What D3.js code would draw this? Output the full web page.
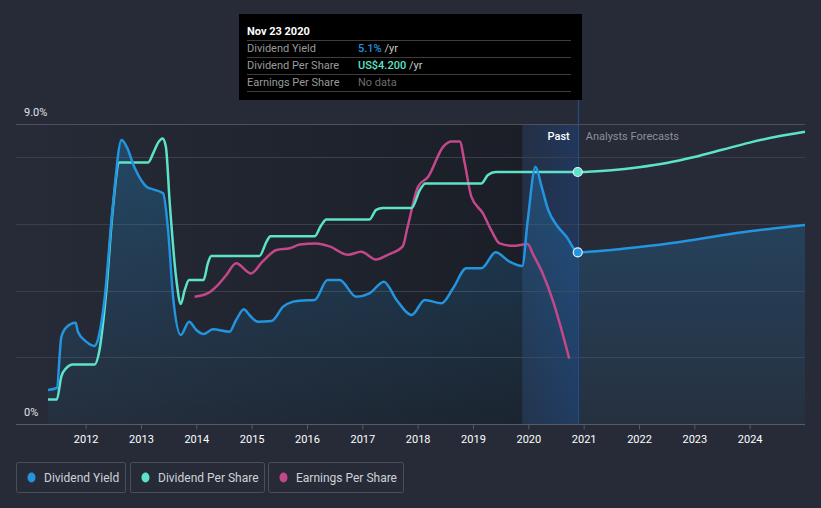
<!DOCTYPE html>
<html><head><meta charset="utf-8">
<script src="https://cdn.jsdelivr.net/npm/d3@7"></script>
<style>
html,body{margin:0;padding:0;background:#262b37;}
svg{display:block;font-family:Roboto,"Noto Sans",sans-serif;}
</style></head><body>
<svg id="c" width="821" height="508"></svg>
<script>
// ---- data (decimal year, value) ----
const yieldPast = [[2011.32,1.02],[2011.48,1.08],[2011.56,2.6],[2011.65,2.9],[2011.82,3.04],[2011.86,2.77],[2012.01,2.47],[2012.16,2.34],[2012.22,2.52],[2012.34,3.72],[2012.49,6.52],[2012.65,8.52],[2012.74,8.32],[2012.89,7.67],[2013.10,7.12],[2013.22,7.04],[2013.40,6.92],[2013.49,5.82],[2013.58,3.82],[2013.72,2.67],[2013.87,3.07],[2014.00,2.82],[2014.13,2.7],[2014.30,2.84],[2014.60,2.77],[2014.72,3.12],[2014.86,3.44],[2014.96,3.27],[2015.11,3.07],[2015.36,3.09],[2015.57,3.52],[2015.75,3.67],[2015.87,3.7],[2016.14,3.72],[2016.37,4.32],[2016.59,4.32],[2016.89,3.82],[2017.13,3.92],[2017.39,4.27],[2017.62,3.72],[2017.89,3.27],[2018.13,3.72],[2018.43,3.62],[2018.64,4.07],[2018.88,4.67],[2019.15,4.67],[2019.41,5.15],[2019.66,4.87],[2019.89,4.74],[2019.99,6.12],[2020.13,7.72],[2020.24,7.12],[2020.36,6.42],[2020.51,5.97],[2020.69,5.62],[2020.893,5.15]];
const yieldForecast = [[2020.893,5.15],[2021.5,5.22],[2022,5.31],[2022.5,5.41],[2023,5.53],[2023.5,5.66],[2024,5.78],[2024.5,5.88],[2025,5.97]];
const dpsPast = [[2011.32,0.41],[2011.48,0.41],[2011.56,0.79],[2011.65,0.93],[2011.77,0.99],[2012.16,0.99],[2012.25,1.23],[2012.37,2.18],[2012.49,3.57],[2012.61,4.36],[2013.13,4.36],[2013.22,4.51],[2013.31,4.69],[2013.39,4.76],[2013.45,4.62],[2013.52,3.68],[2013.64,2.4],[2013.72,2.0],[2013.79,2.23],[2013.87,2.4],[2014.13,2.4],[2014.21,2.68],[2014.27,2.8],[2015.14,2.8],[2015.27,3.04],[2015.34,3.13],[2016.14,3.13],[2016.25,3.3],[2016.35,3.41],[2017.13,3.41],[2017.25,3.57],[2017.37,3.6],[2017.89,3.6],[2018.04,3.9],[2018.14,4.01],[2019.15,4.01],[2019.27,4.15],[2019.41,4.2],[2020.893,4.2]];
const dpsForecast = [[2020.893,4.2],[2021.5,4.23],[2022,4.28],[2022.5,4.35],[2023,4.45],[2023.5,4.57],[2024,4.69],[2024.5,4.79],[2025,4.87]];
const epsPast = [[2013.97,2.12],[2014.21,2.18],[2014.36,2.29],[2014.54,2.48],[2014.72,2.68],[2014.99,2.51],[2015.20,2.71],[2015.45,2.9],[2015.69,2.93],[2015.87,2.99],[2016.17,3.01],[2016.41,2.96],[2016.74,2.82],[2016.98,2.87],[2017.25,2.74],[2017.46,2.82],[2017.73,2.96],[2017.82,3.29],[2018.01,3.96],[2018.19,4.12],[2018.46,4.62],[2018.61,4.71],[2018.76,4.71],[2018.85,4.35],[2018.97,3.79],[2019.18,3.51],[2019.33,3.23],[2019.48,3.01],[2019.72,2.97],[2019.99,3.0],[2020.08,2.84],[2020.26,2.51],[2020.45,2.04],[2020.60,1.57],[2020.74,1.09]];
const yearTicks = [2012,2013,2014,2015,2016,2017,2018,2019,2020,2021,2022,2023,2024];
const yTickLabels = [[9,"9.0%"],[0,"0%"]];
const gridValues = [2,4,6,8];
const seriesNames = ["Dividend Yield","Dividend Per Share","Earnings Per Share"];
const seriesColors = ["#2394df","#5de3c8","#c3478b"];
const tipDate = 2020.893;
const highlightStart = 2019.89;
const tipTitle = "Nov 23 2020";
const tipRows = [["Dividend Yield","5.1%"," /yr"],["Dividend Per Share","US$4.200"," /yr"],["Earnings Per Share","No data",""]];

// ---- chart ----
const svg = d3.select("#c");
const x = d3.scaleLinear().domain([2011.32, 2025]).range([48, 805]);
const yP = d3.scaleLinear().domain([0, 9]).range([424, 124]);
const yD = d3.scaleLinear().domain([0, 5]).range([424, 124]);

const defs = svg.append("defs");
const g1 = defs.append("linearGradient").attr("id","pastG").attr("gradientUnits","userSpaceOnUse")
  .attr("x1",x(2011.32)).attr("x2",x(highlightStart)).attr("y1",0).attr("y2",0);
g1.append("stop").attr("offset",0).attr("stop-color","#000").attr("stop-opacity",0.02);
g1.append("stop").attr("offset",1).attr("stop-color","#000").attr("stop-opacity",0.3);
const g2 = defs.append("linearGradient").attr("id","hlG").attr("gradientUnits","userSpaceOnUse")
  .attr("x1",x(highlightStart)).attr("x2",x(tipDate)).attr("y1",0).attr("y2",0);
g2.append("stop").attr("offset",0).attr("stop-color","#1550a8").attr("stop-opacity",0.12);
g2.append("stop").attr("offset",1).attr("stop-color","#1550a8").attr("stop-opacity",0.33);
const g3 = defs.append("linearGradient").attr("id","areaG").attr("gradientUnits","userSpaceOnUse")
  .attr("x1",0).attr("x2",0).attr("y1",yP(9)).attr("y2",yP(0));
g3.append("stop").attr("offset",0).attr("stop-color","#2394df").attr("stop-opacity",0.3);
g3.append("stop").attr("offset",1).attr("stop-color","#2394df").attr("stop-opacity",0.05);

// past shading
svg.append("rect").attr("x",x(2011.32)).attr("y",yP(9)).attr("width",x(highlightStart)-x(2011.32)).attr("height",yP(0)-yP(9)).attr("fill","url(#pastG)");
svg.append("rect").attr("x",x(highlightStart)).attr("y",yP(9)).attr("width",x(tipDate)-x(highlightStart)).attr("height",yP(0)-yP(9)).attr("fill","url(#hlG)");

// grid
svg.append("g").selectAll("line").data(gridValues).join("line")
  .attr("x1",16).attr("x2",805).attr("y1",d=>Math.round(yP(d))+0.5).attr("y2",d=>Math.round(yP(d))+0.5)
  .attr("stroke","#3a404b").attr("stroke-width",1);
svg.append("line").attr("x1",16).attr("x2",805).attr("y1",Math.round(yP(9))+0.5).attr("y2",Math.round(yP(9))+0.5).attr("stroke","#4c525c");

// area
const allYield = yieldPast.concat(yieldForecast.slice(1));
const curve = d3.curveMonotoneX;
svg.append("path").datum(allYield)
  .attr("d", d3.area().x(d=>x(d[0])).y0(yP(0)).y1(d=>yP(d[1])).curve(curve))
  .attr("fill","url(#areaG)");

// x axis
const xAxis = svg.append("g").attr("transform","translate(0,424)");
xAxis.append("line").attr("x1",16).attr("x2",805).attr("y1",0.5).attr("y2",0.5).attr("stroke","#555c67");
const ax = d3.axisBottom(x).tickValues(yearTicks).tickFormat(d3.format("d")).tickSize(5).tickSizeOuter(0);
const axG = svg.append("g").attr("transform","translate(0,424.5)").call(ax);
axG.select(".domain").remove();
axG.selectAll(".tick line").attr("stroke","#555c67");
axG.selectAll(".tick text").attr("fill","#ffffff").attr("font-size",11).attr("dy","0.95em").attr("font-family","Roboto,sans-serif");

// y labels
svg.append("g").selectAll("text").data(yTickLabels).join("text")
  .attr("x",24).attr("y",d=>yP(d[0])-8).text(d=>d[1])
  .attr("fill","#e2e4e8").attr("font-size",11);

// lines
const lineP = d3.line().x(d=>x(d[0])).y(d=>yP(d[1])).curve(curve);
const lineD = d3.line().x(d=>x(d[0])).y(d=>yD(d[1])).curve(curve);
svg.append("path").datum(epsPast).attr("d",lineD).attr("fill","none").attr("stroke",seriesColors[2]).attr("stroke-width",2.5);
svg.append("path").datum(dpsPast.concat(dpsForecast.slice(1))).attr("d",lineD).attr("fill","none").attr("stroke",seriesColors[1]).attr("stroke-width",2.5);
svg.append("path").datum(allYield).attr("d",lineP).attr("fill","none").attr("stroke",seriesColors[0]).attr("stroke-width",2.5);

// vertical line
svg.append("line").attr("x1",Math.round(x(tipDate))+0.5).attr("x2",Math.round(x(tipDate))+0.5).attr("y1",100).attr("y2",424).attr("stroke","#1f4f90").attr("stroke-width",1);

// markers
svg.append("circle").attr("cx",x(tipDate)).attr("cy",yD(dpsPast[dpsPast.length-1][1])).attr("r",4.5).attr("fill",seriesColors[1]).attr("stroke","#e8f0f8").attr("stroke-width",1.2);
svg.append("circle").attr("cx",x(tipDate)).attr("cy",yP(yieldPast[yieldPast.length-1][1])).attr("r",4.5).attr("fill",seriesColors[0]).attr("stroke","#e8f0f8").attr("stroke-width",1.2);

// Past / forecast labels
svg.append("text").attr("x",x(tipDate)-8).attr("y",140).attr("text-anchor","end").attr("fill","#ffffff").attr("font-size",11).attr("font-weight",500).text("Past");
svg.append("text").attr("x",x(tipDate)+8).attr("y",140).attr("fill","#8b9099").attr("font-size",11).text("Analysts Forecasts");

// tooltip
const tip = svg.append("g");
tip.append("rect").attr("x",239).attr("y",14).attr("width",343).attr("height",86).attr("fill","#000");
tip.append("text").attr("x",247).attr("y",35).attr("fill","#fff").attr("font-size",11).attr("font-weight",700).text(tipTitle);
[40,57,74,91].forEach(yy=>tip.append("line").attr("x1",247).attr("x2",571).attr("y1",yy+0.5).attr("y2",yy+0.5).attr("stroke","#3d3d3d"));
const valColors = [seriesColors[0], seriesColors[1], "#6d6d6d"];
tipRows.forEach((r,i)=>{
  const yy = 52 + i*17;
  tip.append("text").attr("x",247).attr("y",yy).attr("fill","#9a9a9a").attr("font-size",11).text(r[0]);
  const t = tip.append("text").attr("x",358).attr("y",yy).attr("font-size",11);
  t.append("tspan").attr("fill",valColors[i]).attr("font-weight",i<2?500:400).text(r[1]);
  if (r[2]) t.append("tspan").attr("fill","#c8c8c8").text(r[2]);
});

// legend
const legX = [16,130,268], legW = [109,134,135];
const leg = svg.append("g");
seriesNames.forEach((n,i)=>{
  const g = leg.append("g").attr("transform",`translate(${legX[i]},462)`);
  g.append("rect").attr("x",0.5).attr("y",0.5).attr("width",legW[i]).attr("height",30).attr("rx",2).attr("fill","none").attr("stroke","#4a505b");
  g.append("ellipse").attr("cx",15.5).attr("cy",15.5).attr("rx",4).attr("ry",5).attr("fill",seriesColors[i]);
  g.append("text").attr("x",28).attr("y",19.5).attr("fill","#cfd2d7").attr("font-size",12).text(n);
});
</script>
</body></html>
